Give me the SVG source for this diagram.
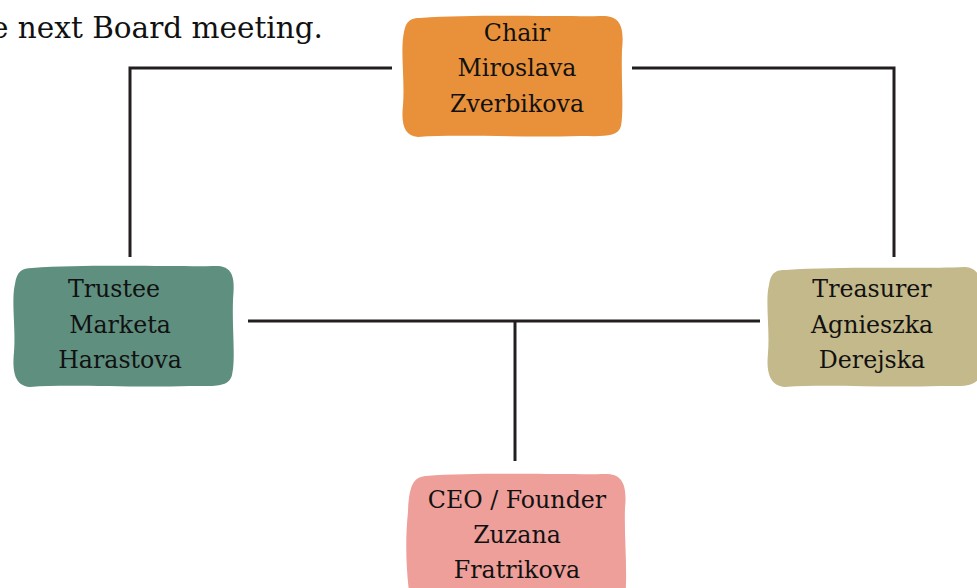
<svg xmlns="http://www.w3.org/2000/svg" width="977" height="588" viewBox="0 0 977 588">
<style>
.t{font-family:"DejaVu Serif","Liberation Serif",serif;font-size:23.7px;fill:#111111;text-anchor:middle}
.top{font-family:"DejaVu Serif","Liberation Serif",serif;font-size:29.5px;fill:#111111}
.c{fill:none;stroke:#231f20;stroke-width:3}
</style>
<rect width="977" height="588" fill="#ffffff"/>
<text class="top" x="-9" y="38">e next Board meeting.</text>
<g id="connectors">
<polyline class="c" points="392,68 130,68 130,257"/>
<polyline class="c" points="632,68 894,68 894,257"/>
<line class="c" x1="248" y1="321" x2="760" y2="321"/>
<line class="c" x1="515" y1="321" x2="515" y2="461"/>
</g>
<g id="chair">
<path fill="#e8913a" d="M420 18 C480 14 560 17 605 16 C622 17 624 30 622 50 C621 80 624 110 621 126 C618 138 600 136 580 136 C520 138 460 134 418 137 C404 136 401 124 403 105 C405 80 400 50 404 32 C406 20 412 18 420 18 Z"/>
<text class="t" x="517" y="41">Chair</text>
<text class="t" x="517" y="76">Miroslava</text>
<text class="t" x="517" y="112">Zverbikova</text>
</g>
<g id="trustee">
<path fill="#5f8f7f" d="M32 268 C90 264 170 267 218 266 C234 267 235 280 233 300 C232 330 236 360 232 375 C229 388 212 386 190 386 C130 388 70 384 30 387 C15 386 12 372 14 352 C16 330 11 300 15 284 C17 271 22 268 32 268 Z"/>
<text class="t" x="114" y="297">Trustee</text>
<text class="t" x="120" y="333">Marketa</text>
<text class="t" x="120" y="368">Harastova</text>
</g>
<g id="treasurer">
<path fill="#c4b98a" d="M786 270 C840 266 920 269 965 267 C980 268 982 280 981 300 C980 330 983 360 980 375 C977 388 960 386 940 386 C880 388 830 384 785 387 C770 386 766 373 768 353 C770 330 765 300 769 285 C771 272 776 270 786 270 Z"/>
<text class="t" x="872" y="297">Treasurer</text>
<text class="t" x="872" y="333">Agnieszka</text>
<text class="t" x="872" y="368">Derejska</text>
</g>
<g id="ceo">
<path fill="#ee9f9a" d="M426 476 C480 472 560 475 608 474 C624 475 627 488 625 508 C624 540 628 570 625 600 L410 600 C406 570 405 540 408 512 C409 484 414 477 426 476 Z"/>
<text class="t" x="517" y="508">CEO / Founder</text>
<text class="t" x="517" y="543">Zuzana</text>
<text class="t" x="517" y="578">Fratrikova</text>
</g>
</svg>
